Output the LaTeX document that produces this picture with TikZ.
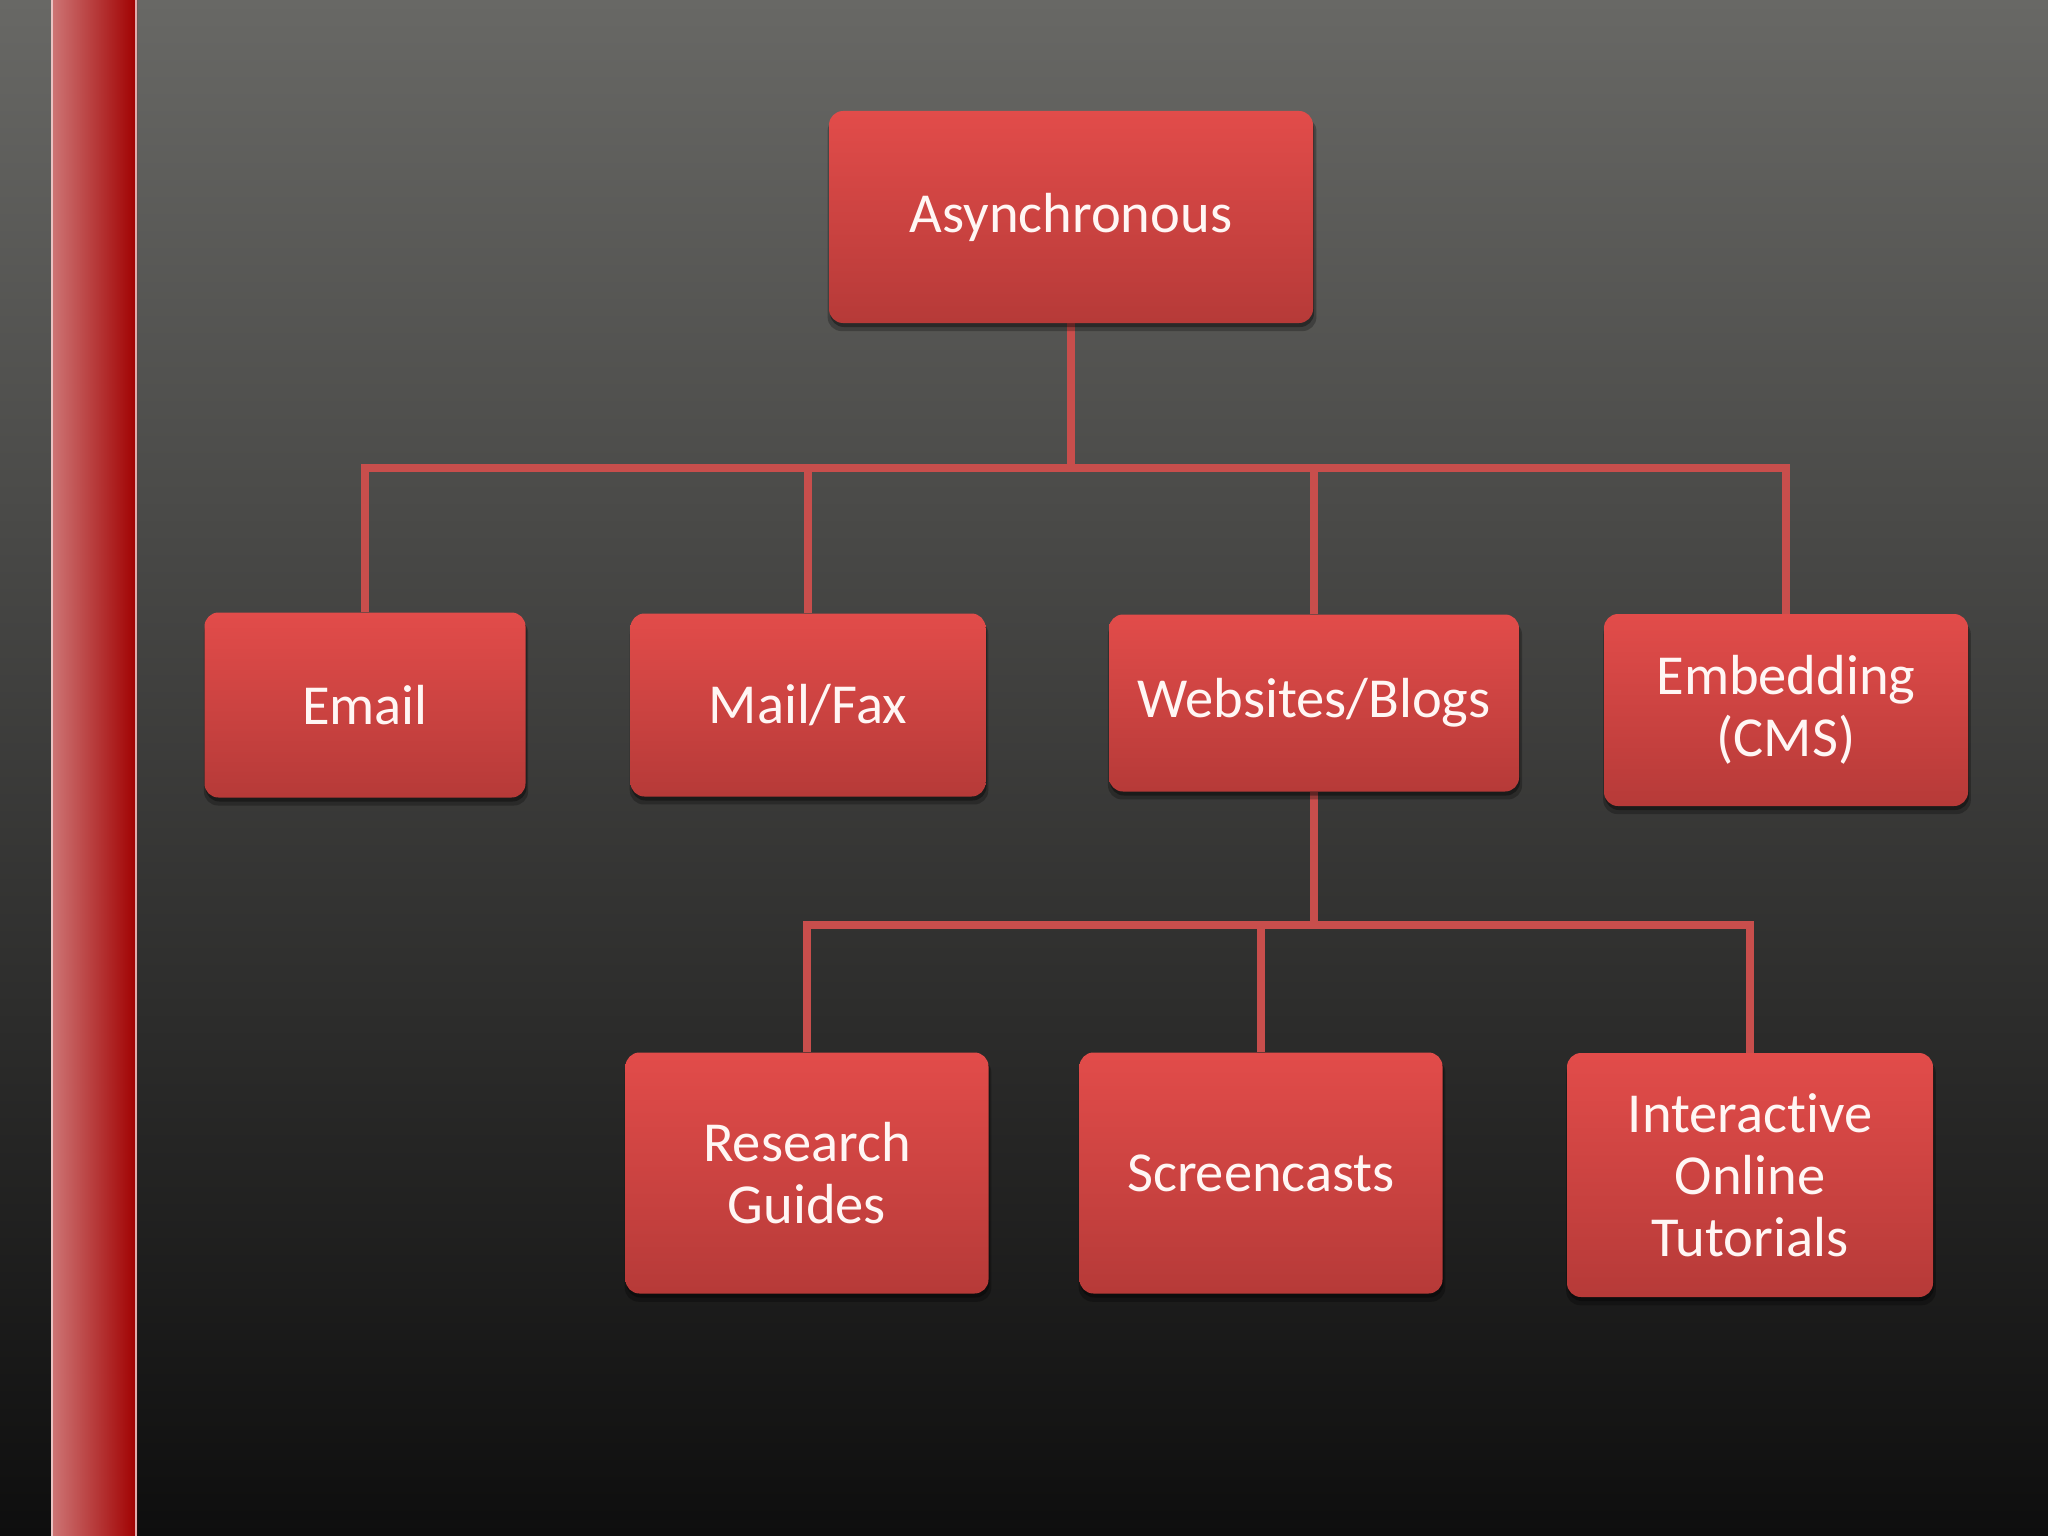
\documentclass[tikz,border=0pt]{standalone}
\usepackage{fontspec}
\setmainfont[Ligatures={NoCommon}]{Carlito}
\usetikzlibrary{shadows}
\pgfdeclarelayer{bgl}
\pgfdeclarelayer{connl}
\pgfsetlayers{bgl,connl,main}
\definecolor{bgtop}{RGB}{104,104,101}
\definecolor{bgbot}{RGB}{14,14,14}
\definecolor{barl}{RGB}{206,118,118}
\definecolor{barr}{RGB}{160,0,0}
\definecolor{boxtop}{RGB}{226,76,74}
\definecolor{boxbot}{RGB}{182,58,56}
\definecolor{connc}{RGB}{200,78,76}
\definecolor{txtc}{RGB}{255,246,244}
\tikzset{
  box/.style={rectangle, rounded corners=14pt, top color=boxtop, bottom color=boxbot,
    draw=none, inner sep=0pt, align=center, text=txtc,
    font=\fontsize{56.5}{62}\selectfont,
    drop shadow={fill=black, opacity=0.25, shadow xshift=1pt, shadow yshift=-7pt, shadow scale=1.01},
    drop shadow={fill=black, opacity=0.35, shadow xshift=1pt, shadow yshift=-4pt}},
  conn/.style={draw=connc, line width=8pt}
}
\begin{document}
\begin{tikzpicture}[x=1pt,y=-1pt]
\begin{pgfonlayer}{bgl}
\shade[top color=bgtop, bottom color=bgbot] (0,0) rectangle (2048,1536);
\shade[left color=barl, right color=barr] (51,0) rectangle (137,1536);
\fill[white!70!barl, opacity=0.8] (51,0) rectangle (53,1536);
\fill[white!70!barl, opacity=0.8] (135,0) rectangle (137,1536);
\end{pgfonlayer}
\useasboundingbox (0,0) rectangle (2048,1536);

\node[box, minimum width=484pt, minimum height=212pt] (async) at (1071,217) {Asynchronous};
\node[box, minimum width=321pt, minimum height=185pt] (email) at (365,705) {Email};
\node[box, minimum width=355pt, minimum height=183pt] (mail) at (808,705) {Mail/Fax};
\node[box, minimum width=410pt, minimum height=177pt] (web) at (1314,703) {Websites/Blogs};
\node[box, minimum width=364pt, minimum height=192pt] (embed) at (1786,710) {Embedding\\(CMS)};
\node[box, minimum width=363pt, minimum height=241pt] (research) at (807,1173) {Research\\Guides};
\node[box, minimum width=363pt, minimum height=241pt] (screen) at (1261,1173) {Screencasts};
\node[box, minimum width=366pt, minimum height=244pt] (inter) at (1750,1175) {Interactive\\Online\\Tutorials};

\coordinate (j1) at (1071,468);
\coordinate (j2) at (1314,925);
\begin{pgfonlayer}{connl}
\draw[conn] (async.south) -- (j1);
\draw[conn] (email.north) |- (j1) -| (embed.north);
\draw[conn] (mail.north) -- (mail.north |- j1);
\draw[conn] (web.north) -- (web.north |- j1);
\draw[conn] (web.south) -- (j2);
\draw[conn] (research.north) |- (j2) -| (inter.north);
\draw[conn] (screen.north) -- (screen.north |- j2);
\end{pgfonlayer}
\end{tikzpicture}
\end{document}
